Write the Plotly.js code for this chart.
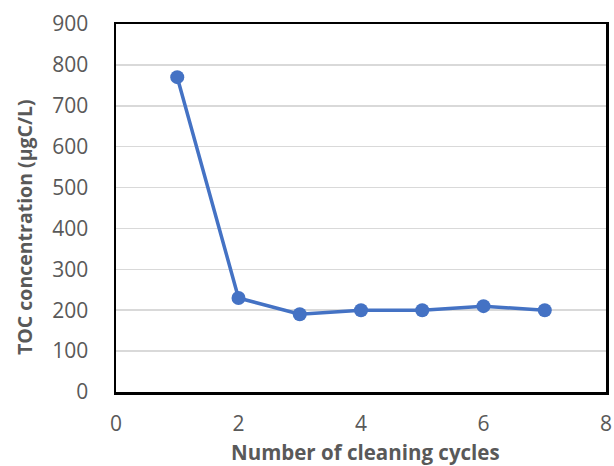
<!DOCTYPE html>
<html><head><meta charset="utf-8">
<script src="https://cdn.plot.ly/plotly-3.0.1.min.js"></script>
<style>html,body{margin:0;padding:0;background:#fff}#c{width:614px;height:466px}</style>
</head><body><div id="c"></div>
<script>
const cycles = [1, 2, 3, 4, 5, 6, 7];
const toc = [770, 230, 190, 200, 200, 210, 200];
const xTitle = 'Number of cleaning cycles';
const yTitle = 'TOC concentration (μgC/L)';
const font = 'Open Sans, Noto Sans, sans-serif';
const grey = '#595959';
Plotly.newPlot('c', [{
  x: cycles, y: toc, type: 'scatter', mode: 'lines+markers',
  line: {color: '#4472C4', width: 3.5},
  marker: {color: '#4472C4', size: 14},
  cliponaxis: false
}], {
  width: 614, height: 466,
  margin: {l: 116, r: 8, t: 24, b: 74},
  paper_bgcolor: '#fff', plot_bgcolor: '#fff',
  showlegend: false,
  font: {family: font, color: grey, size: 21},
  xaxis: {range: [0, 8], dtick: 2, tick0: 0, showgrid: false, zeroline: false,
    showline: true, mirror: true, linecolor: '#000', linewidth: 2.5,
    ticks: 'outside', ticklen: 11, tickcolor: 'rgba(0,0,0,0)',
    tickfont: {size: 21, color: grey}},
  yaxis: {range: [0, 900], dtick: 100, tick0: 0, showgrid: true, gridcolor: '#d9d9d9', gridwidth: 1.5,
    zeroline: false, showline: true, mirror: true, linecolor: '#000', linewidth: 2.5,
    ticks: 'outside', ticklen: 21, tickcolor: 'rgba(0,0,0,0)',
    tickfont: {size: 21, color: grey}},
  annotations: [
    {text: '<b>' + xTitle + '</b>', xref: 'paper', yref: 'paper', x: 0.51, y: -0.164,
     xanchor: 'center', yanchor: 'middle', showarrow: false, font: {size: 20.5, color: grey, family: font}},
    {text: '<b>' + yTitle + '</b>', xref: 'paper', yref: 'paper', x: -0.188, y: 0.448,
     xanchor: 'center', yanchor: 'middle', textangle: -90, showarrow: false, font: {size: 19.5, color: grey, family: font}}
  ]
}, {displayModeBar: false, staticPlot: true});
</script></body></html>
